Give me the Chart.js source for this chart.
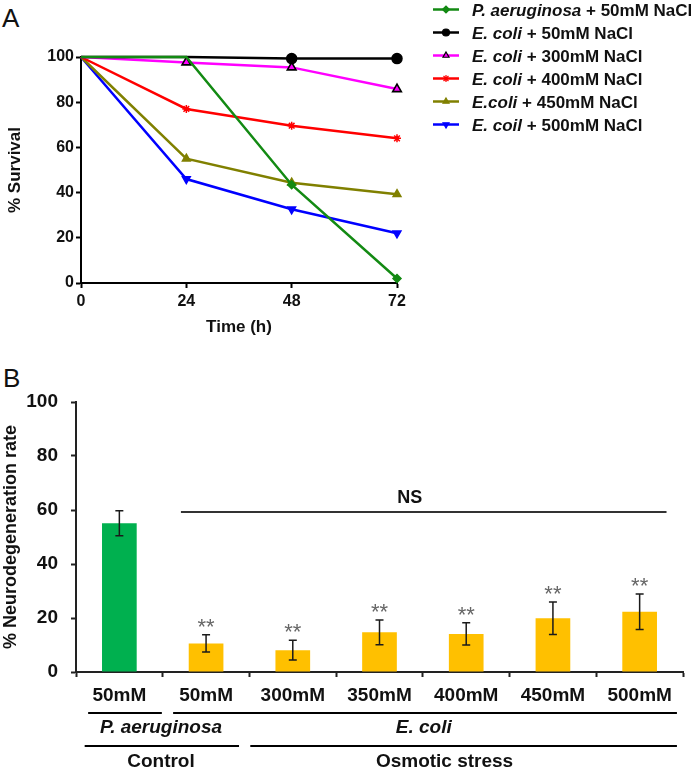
<!DOCTYPE html>
<html>
<head>
<meta charset="utf-8">
<script src="https://cdn.jsdelivr.net/npm/chart.js@4.4.0/dist/chart.umd.min.js"></script>
<style>
  body { margin: 0; background: #fff; width: 693px; height: 767px; position: relative; overflow: hidden; font-family: "Liberation Sans", Arial, sans-serif; }
  .panel { position: absolute; font-size: 26px; line-height: 26px; color: #111; }
  #wrapA { position: absolute; left: 0; top: 0; width: 693px; height: 345px; }
  #wrapB { position: absolute; left: 0; top: 360px; width: 693px; height: 407px; }
</style>
</head>
<body>
<div class="panel" style="left:2px; top:5px;">A</div>
<div class="panel" style="left:3px; top:365px;">B</div>
<div id="wrapA"><canvas id="survivalChart" width="693" height="345"></canvas></div>
<div id="wrapB"><canvas id="neuroChart" width="693" height="407"></canvas></div>

<script>
// --- panel A data ---
const times = [0, 24, 48, 72];
const seriesOrganism = ["P. aeruginosa", "E. coli", "E. coli", "E. coli", "E.coli", "E. coil"];
const seriesSalt = ["+ 50mM NaCl", "+ 50mM NaCl", "+ 300mM NaCl", "+ 400mM NaCl", "+ 450mM NaCl", "+ 500mM NaCl"];
const paeruginosa50 = [100, 100, 43.5, 2];
const ecoli50 = [100, 100, 99.3, 99.3];
const ecoli300 = [100, 97.6, 95.4, 85.8];
const ecoli400 = [100, 77, 69.6, 64];
const ecoli450 = [100, 55, 44.4, 39.3];
const ecoli500 = [100, 46, 32.6, 22];

// --- panel B data ---
const concentrations = ["50mM", "50mM", "300mM", "350mM", "400mM", "450mM", "500mM"];
const neuroMeans = [55.1, 10.6, 8.1, 14.7, 14.1, 19.9, 22.3];
const neuroErrors = [4.6, 3.2, 3.7, 4.6, 4.1, 6.0, 6.6];
const significance = ["", "**", "**", "**", "**", "**", "**"];
const organismGroups = ["P. aeruginosa", "E. coli"];
const conditionGroups = ["Control", "Osmotic stress"];
const nsLabel = "NS";

const FONT = '"Liberation Sans", Arial, sans-serif';
Chart.defaults.font.family = FONT;
Chart.defaults.color = "#111";

const seriesValues = [paeruginosa50, ecoli50, ecoli300, ecoli400, ecoli450, ecoli500];
const seriesColors = ["#138a13", "#000000", "#ff00ff", "#ff0000", "#808000", "#0000ff"];
const seriesPoints = ["rectRot", "circle", "triangle", "star", "triangle", "triangle"];
const seriesRotation = [0, 0, 0, 0, 0, 180];
const seriesRadius = [4, 5, 5, 4, 4.5, 4.5];

const survivalSets = seriesValues.map((vals, i) => ({
  label: seriesOrganism[i] + " " + seriesSalt[i],
  data: vals.map((v, k) => ({ x: times[k], y: v })),
  borderColor: seriesColors[i],
  backgroundColor: seriesColors[i],
  pointBackgroundColor: seriesColors[i],
  pointBorderColor: i === 2 ? "#000" : seriesColors[i],
  pointBorderWidth: i === 2 ? 1.6 : 1.5,
  pointStyle: seriesPoints[i],
  pointRotation: seriesRotation[i],
  // markers at the shared start point (and under the green line at 24 h) are hidden
  pointRadius: ctx => (ctx.dataIndex === 0 || (i < 2 && ctx.dataIndex === 1)) ? 0 : seriesRadius[i],
  borderWidth: 2.5,
  tension: 0,
  clip: false
}));

// legend drawn on the right, with italic organism names
const sideLegend = {
  id: "sideLegend",
  afterDraw(chart) {
    const ctx = chart.ctx;
    chart.data.datasets.forEach((ds, i) => {
      const y = 9.5 + i * 23;
      ctx.save();
      ctx.strokeStyle = ds.borderColor;
      ctx.lineWidth = 2.5;
      ctx.beginPath();
      ctx.moveTo(433, y);
      ctx.lineTo(459, y);
      ctx.stroke();
      ctx.fillStyle = ds.pointBackgroundColor;
      ctx.strokeStyle = ds.pointBorderColor;
      ctx.lineWidth = 1.2;
      Chart.helpers.drawPoint(ctx, {
        pointStyle: ds.pointStyle, rotation: ds.pointRotation, radius: 3.5, borderWidth: 1.2
      }, 446, y);
      ctx.fillStyle = "#111";
      ctx.textBaseline = "alphabetic";
      ctx.textAlign = "left";
      ctx.font = "italic bold 17px " + FONT;
      ctx.fillText(seriesOrganism[i], 472, y + 6);
      const w = ctx.measureText(seriesOrganism[i] + " ").width;
      ctx.font = "bold 17px " + FONT;
      ctx.fillText(seriesSalt[i], 472 + w, y + 6);
      ctx.restore();
    });
  }
};

new Chart(document.getElementById("survivalChart"), {
  type: "line",
  data: { datasets: survivalSets },
  options: {
    responsive: false,
    animation: false,
    layout: { padding: { left: 0, top: 57, right: 296, bottom: 0 } },
    plugins: { legend: { display: false }, tooltip: { enabled: false } },
    scales: {
      x: {
        type: "linear", min: 0, max: 72,
        afterFit(s) { s.height = 62; },
        ticks: { stepSize: 24, font: { size: 16, weight: "bold" }, color: "#111", padding: 4 },
        grid: { drawOnChartArea: false, tickLength: 5, color: "#000", tickWidth: 2 },
        border: { color: "#000", width: 2 },
        title: { display: true, text: "Time (h)", font: { size: 17, weight: "bold" }, color: "#111", padding: { top: 0, bottom: 7 } }
      },
      y: {
        min: 0, max: 100,
        afterFit(s) { s.width = 81; },
        ticks: { stepSize: 20, font: { size: 16, weight: "bold" }, color: "#111", padding: 2 },
        grid: { drawOnChartArea: false, tickLength: 5, color: "#000", tickWidth: 2 },
        border: { color: "#000", width: 2 },
        title: { display: true, text: "% Survival", font: { size: 17, weight: "bold" }, color: "#111", padding: { top: 5, bottom: 0 } }
      }
    }
  },
  plugins: [sideLegend]
});

// error bars, stars, NS bracket and group rows under the axis
const barExtras = {
  id: "barExtras",
  afterDatasetsDraw(chart) {
    const { ctx, scales: { x, y } } = chart;
    ctx.save();
    neuroMeans.forEach((m, i) => {
      const px = x.getPixelForValue(i);
      const top = y.getPixelForValue(m + neuroErrors[i]);
      const bot = y.getPixelForValue(m - neuroErrors[i]);
      ctx.strokeStyle = "#1a1a1a";
      ctx.lineWidth = 1.5;
      ctx.beginPath();
      ctx.moveTo(px, top); ctx.lineTo(px, bot);
      ctx.moveTo(px - 4, top); ctx.lineTo(px + 4, top);
      ctx.moveTo(px - 4, bot); ctx.lineTo(px + 4, bot);
      ctx.stroke();
      if (significance[i]) {
        ctx.fillStyle = "#666";
        ctx.font = "22px " + FONT;
        ctx.textAlign = "center";
        ctx.textBaseline = "alphabetic";
        ctx.fillText(significance[i], px, top - 1);
      }
    });

    // NS line across E. coli bars
    const nsY = y.getPixelForValue(59.3);
    ctx.strokeStyle = "#333";
    ctx.lineWidth = 2;
    ctx.beginPath();
    ctx.moveTo(x.getPixelForValue(0.71), nsY);
    ctx.lineTo(x.getPixelForValue(6.31), nsY);
    ctx.stroke();
    ctx.fillStyle = "#111";
    ctx.font = "bold 18px " + FONT;
    ctx.textAlign = "center";
    ctx.fillText(nsLabel, x.getPixelForValue(3.35), nsY - 9);

    // group rows
    const row1 = [[-0.36, 0.49, 0.48], [0.62, 6.43, 3.51]];
    const row2 = [[-0.40, 1.38, 0.48], [1.51, 6.43, 3.75]];
    ctx.strokeStyle = "#000";
    ctx.lineWidth = 2;
    row1.forEach((r, i) => {
      ctx.beginPath();
      ctx.moveTo(x.getPixelForValue(r[0]), 353);
      ctx.lineTo(x.getPixelForValue(r[1]), 353);
      ctx.stroke();
      ctx.font = "italic bold 19px " + FONT;
      ctx.fillText(organismGroups[i], x.getPixelForValue(r[2]), 373);
    });
    row2.forEach((r, i) => {
      ctx.beginPath();
      ctx.moveTo(x.getPixelForValue(r[0]), 386);
      ctx.lineTo(x.getPixelForValue(r[1]), 386);
      ctx.stroke();
      ctx.font = "bold 19px " + FONT;
      ctx.fillText(conditionGroups[i], x.getPixelForValue(r[2]), 407);
    });
    ctx.restore();
  }
};

new Chart(document.getElementById("neuroChart"), {
  type: "bar",
  data: {
    labels: concentrations,
    datasets: [{
      data: neuroMeans,
      backgroundColor: neuroMeans.map((v, i) => i === 0 ? "#00b04f" : "#ffc000"),
      borderWidth: 0,
      categoryPercentage: 1,
      barPercentage: 0.4
    }]
  },
  options: {
    responsive: false,
    animation: false,
    layout: { padding: { left: 0, top: 42, right: 10, bottom: 0 } },
    plugins: { legend: { display: false }, tooltip: { enabled: false } },
    scales: {
      x: {
        afterFit(s) { s.height = 95; },
        ticks: { font: { size: 19, weight: "bold" }, color: "#111", padding: 7 },
        grid: { drawOnChartArea: false, tickLength: 5, color: "#222", tickWidth: 2 },
        border: { color: "#222", width: 2 }
      },
      y: {
        min: 0, max: 100,
        afterFit(s) { s.width = 76; },
        ticks: { stepSize: 20, font: { size: 19, weight: "bold" }, color: "#111", padding: 13 },
        grid: { drawOnChartArea: false, tickLength: 5, color: "#222", tickWidth: 2 },
        border: { color: "#222", width: 2 },
        title: { display: true, text: "% Neurodegeneration rate", font: { size: 18, weight: "bold" }, color: "#111", padding: { top: 0, bottom: 0 } }
      }
    }
  },
  plugins: [barExtras]
});
</script>
</body>
</html>
